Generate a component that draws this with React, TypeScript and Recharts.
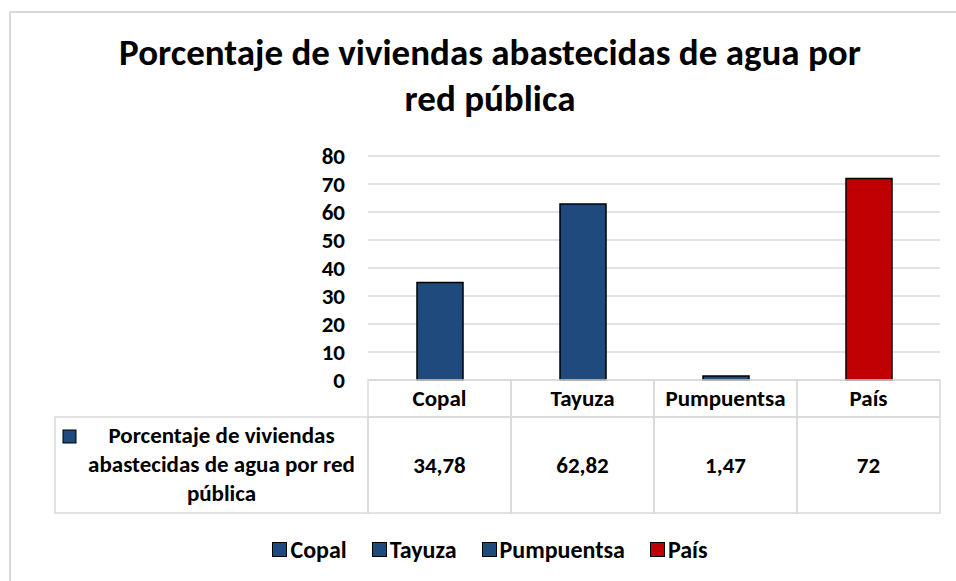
import { BarChart, Bar, XAxis, YAxis, CartesianGrid, Cell, Legend } from 'recharts'

const categories = ['Copal', 'Tayuza', 'Pumpuentsa', 'País']
const values = [34.78, 62.82, 1.47, 72]
const barColors = ['#1F4A7D', '#1F4A7D', '#1F4A7D', '#C00000']
const yTicks = [0, 10, 20, 30, 40, 50, 60, 70, 80]
const seriesName = 'Porcentaje de viviendas abastecidas de agua por red pública'
const seriesNameLines = ['Porcentaje de viviendas', 'abastecidas de agua por red', 'pública']
const title = ['Porcentaje de viviendas abastecidas de agua por', 'red pública']

const data = categories.map((name, i) => ({ name, value: values[i] }))

const FONT = 'Carlito, Calibri, Lato, sans-serif'
const FS = 23
const W = 956
const H = 581
// legend takes ~30px off the bottom on its own
const M = { top: 156, right: 16, bottom: 171, left: 328 }
const Y_W = 40
const CELL_W = (W - M.left - Y_W - M.right) / categories.length
const LABEL_LEFT = 55
const GRID = '#D9D9D9'

const fmt = (v: number) => String(v).replace('.', ',')

const TableTick = (props: any) => {
	const { x, y, payload, index } = props
	const half = CELL_W / 2
	const headH = 37
	const rowH = 96
	return (
		<g>
			<rect x={x - half} y={y} width={CELL_W} height={headH} fill='none' stroke={GRID} strokeWidth={1.5} />
			<rect x={x - half} y={y + headH} width={CELL_W} height={rowH} fill='none' stroke={GRID} strokeWidth={1.5} />
			<text x={x} y={y + 26} textAnchor='middle' fontFamily={FONT} fontWeight='bold' fontSize={FS} fill='#000'>
				{payload.value}
			</text>
			<text x={x} y={y + 93} textAnchor='middle' fontFamily={FONT} fontWeight='bold' fontSize={FS} fill='#000'>
				{fmt(values[index])}
			</text>
			{index === 0 && (
				<g>
					<rect
						x={LABEL_LEFT}
						y={y + headH}
						width={x - half - LABEL_LEFT}
						height={rowH}
						fill='none'
						stroke={GRID}
						strokeWidth={1.5}
					/>
					<rect x={LABEL_LEFT + 8} y={y + 50} width={13} height={13} fill={barColors[0]} stroke='#000' strokeWidth={1} />
					{seriesNameLines.map((line, i) => (
						<text
							key={line}
							x={(LABEL_LEFT + x - half) / 2 + 10}
							y={y + 63 + i * 29}
							textAnchor='middle'
							fontFamily={FONT}
							fontWeight='bold'
							fontSize={FS}
							fill='#000'
						>
							{line}
						</text>
					))}
				</g>
			)}
		</g>
	)
}

const LegendContent = () => (
	<div
		style={{
			display: 'flex',
			justifyContent: 'center',
			gap: 25,
			fontFamily: FONT,
			fontWeight: 'bold',
			fontSize: 24,
			lineHeight: '29px',
			color: '#000',
		}}
	>
		{categories.map((c, i) => (
			<div key={c} style={{ display: 'flex', alignItems: 'center', gap: 3 }}>
				<span
					style={{
						display: 'inline-block',
						width: 13,
						height: 13,
						background: barColors[i],
						border: '1px solid #000',
					}}
				/>
				<span>{c}</span>
			</div>
		))}
	</div>
)

export default function App() {
	return (
		<div
			style={{
				position: 'absolute',
				left: 0,
				top: 0,
				width: W,
				height: H,
				background: '#fff',
				overflow: 'hidden',
			}}
		>
			<div
				style={{
					position: 'absolute',
					left: 9,
					top: 11,
					width: 1000,
					height: 700,
					border: `2px solid ${GRID}`,
				}}
			/>
			<div
				style={{
					position: 'absolute',
					left: 0,
					top: 30,
					width: 980,
					textAlign: 'center',
					fontFamily: FONT,
					fontWeight: 'bold',
					fontSize: 37,
					lineHeight: '46px',
					color: '#000',
				}}
			>
				{title.map((t) => (
					<div key={t}>{t}</div>
				))}
			</div>
			<div style={{ position: 'absolute', left: 0, top: 0 }}>
				<BarChart width={W} height={H} data={data} margin={M}>
					<CartesianGrid vertical={false} stroke={GRID} strokeWidth={1.5} />
					<XAxis
						dataKey='name'
						axisLine={false}
						tickLine={false}
						tickSize={0}
						tickMargin={0}
						interval={0}
						tick={<TableTick />}
					/>
					<YAxis
						width={Y_W}
						domain={[0, 80]}
						ticks={yTicks}
						interval={0}
						axisLine={false}
						tickLine={false}
						tickSize={0}
						tickMargin={23}
						tick={{ fontFamily: FONT, fontWeight: 'bold', fontSize: FS, fill: '#000' }}
					/>
					<Legend
						layout='horizontal'
						verticalAlign='middle'
						align='center'
						wrapperStyle={{ top: 535, left: 0, width: 980 }}
						content={<LegendContent />}
					/>
					<Bar dataKey='value' name={seriesName} barSize={46} stroke='#000' strokeWidth={1.5} isAnimationActive={false}>
						{data.map((d, i) => (
							<Cell key={d.name} fill={barColors[i]} />
						))}
					</Bar>
				</BarChart>
			</div>
		</div>
	)
}
